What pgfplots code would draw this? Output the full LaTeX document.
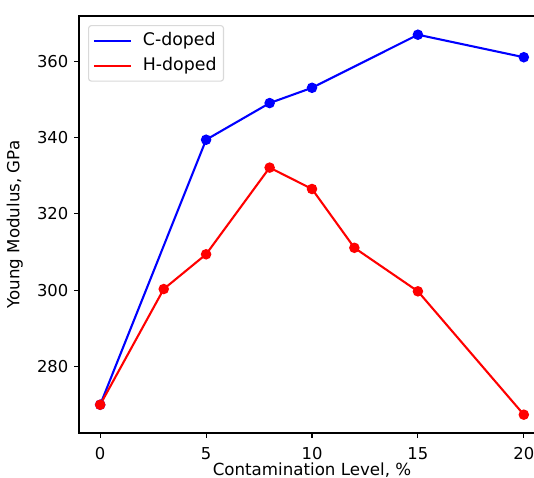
\documentclass[border=0pt]{standalone}
\usepackage{fontspec}
\setmainfont{DejaVu Sans}
\usepackage{pgfplots}
\pgfplotsset{compat=1.18}
\begin{document}
\fontsize{12pt}{14pt}\selectfont
\begin{tikzpicture}
\clip (0pt,0pt) rectangle (384.48pt,343.44pt);
\useasboundingbox (0pt,0pt) rectangle (384.48pt,343.44pt);
\begin{axis}[
  at={(56.88pt,31.68pt)}, anchor=south west,
  scale only axis, width=335.52pt, height=300.24pt,
  xmin=-1, xmax=21, ymin=262.6, ymax=371.8,
  xtick={0,5,10,15,20}, ytick={280,300,320,340,360},
  tick align=outside, tick pos=left,
  major tick length=3.5pt,
  every tick/.style={black, line width=0.8pt},
  axis line style={line width=0.8pt},
  /pgf/number format/assume math mode=true,
  ticklabel style={font=\fontsize{11.8pt}{14pt}\selectfont},
  xticklabel style={yshift=-2.5pt},
  xlabel={Contamination Level, \%},
  ylabel={Young Modulus, GPa},
  label style={font=\fontsize{12pt}{14pt}\selectfont},
  xlabel style={yshift=6pt},
  ylabel style={yshift=2pt},
  legend cell align=left,
  legend style={draw=black!15, rounded corners=2pt, line width=0.8pt,
    font=\fontsize{12.5pt}{14pt}\selectfont,
    at={(0,1)}, anchor=north west, xshift=6.5pt, yshift=-6.5pt,
    inner xsep=3pt, inner ysep=3pt, row sep=2pt,
    nodes={inner sep=2pt, text height=9pt, text depth=3pt},
    /tikz/every odd column/.append style={column sep=6pt},
    /tikz/every even column/.append style={column sep=4pt}},
  legend image code/.code={\draw[#1,mark=none] (0pt,0pt) -- (26.6pt,0pt);},
]
\addplot[color={rgb,255:red,0;green,0;blue,255}, line width=1.5pt, mark=*, mark size=3pt, mark options={solid}] coordinates {
(0,270) (5,339.4) (8,349) (10,353) (15,366.9) (20,361)
};
\addlegendentry{C-doped}
\addplot[color={rgb,255:red,255;green,0;blue,0}, line width=1.5pt, mark=*, mark size=3pt, mark options={solid}] coordinates {
(0,270) (3,300.3) (5,309.4) (8,332.1) (10,326.5) (12,311.1) (15,299.7) (20,267.4)
};
\addlegendentry{H-doped}
\end{axis}
\end{tikzpicture}
\end{document}
